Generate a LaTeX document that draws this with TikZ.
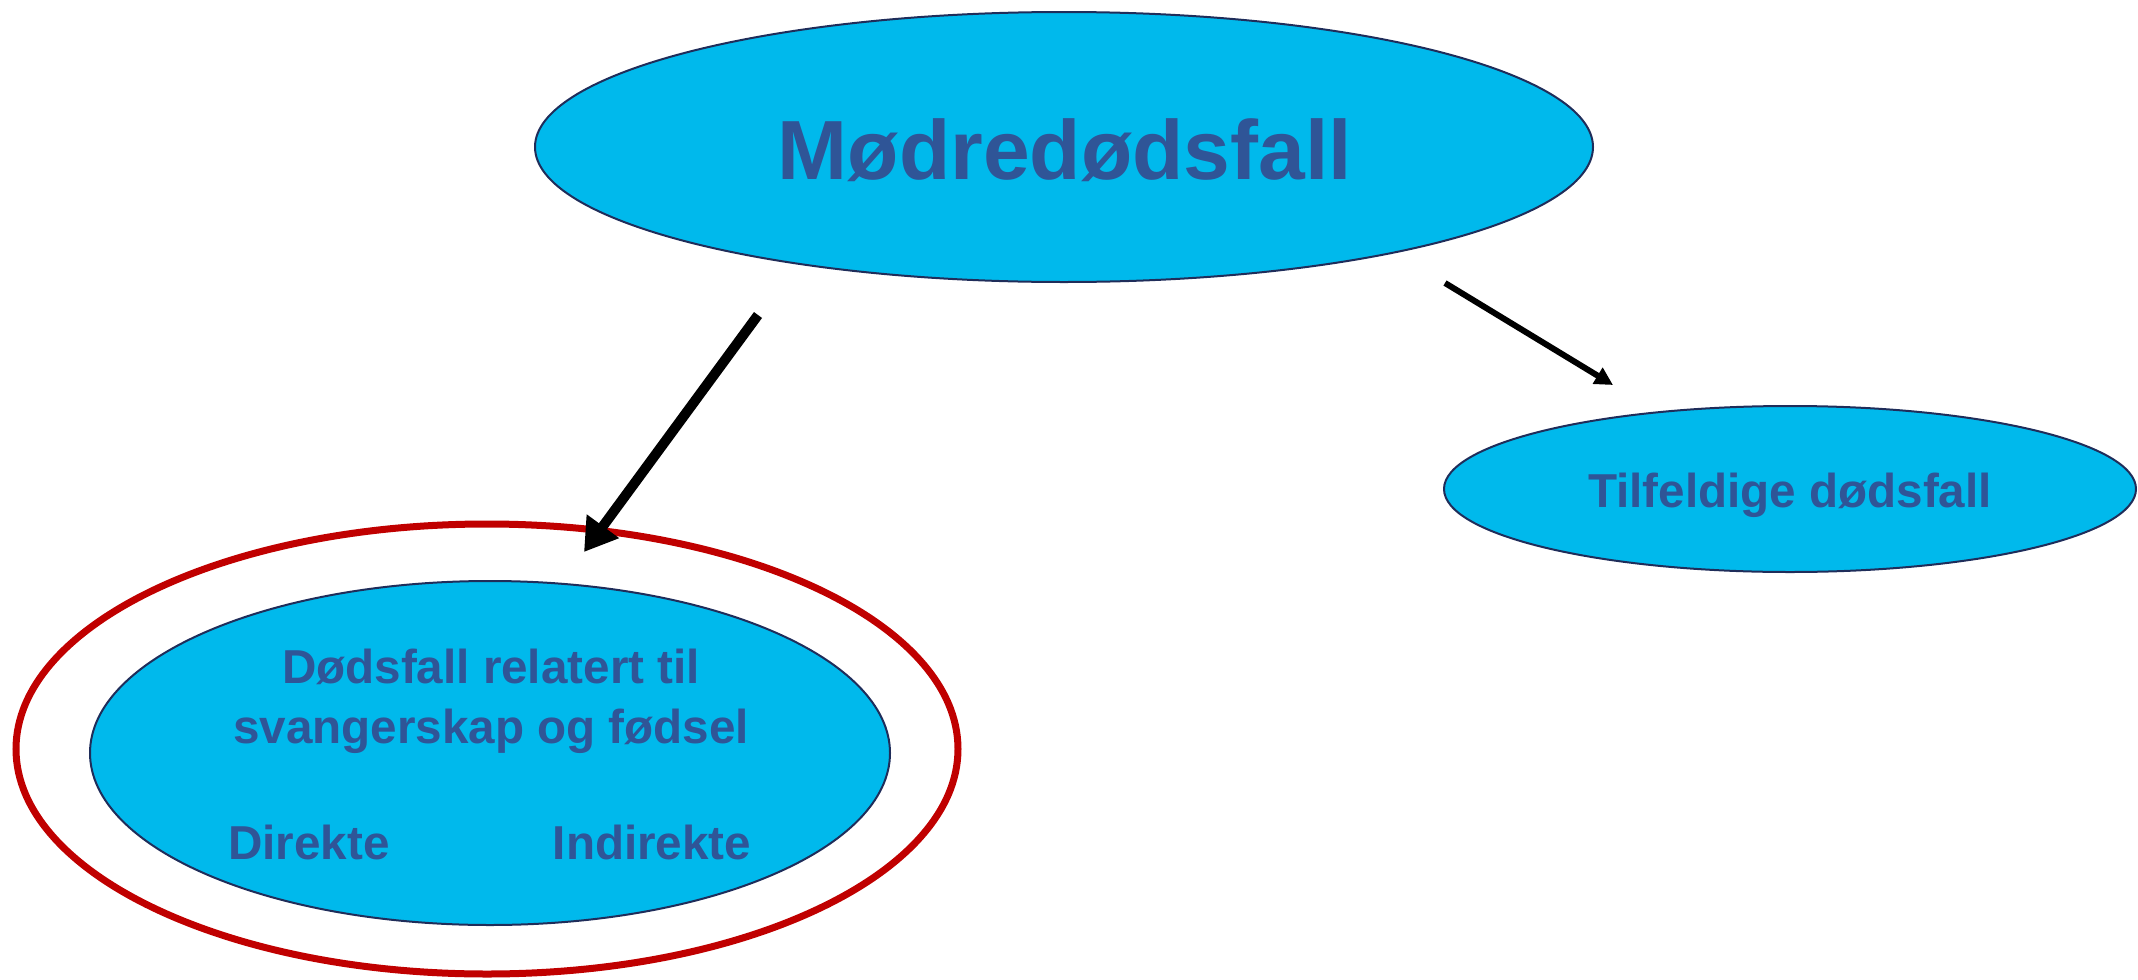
\documentclass[tikz,border=0pt]{standalone}
\usepackage{fontspec}
\setmainfont{Liberation Sans}
\usetikzlibrary{shapes.geometric,arrows.meta}
\definecolor{fondbleu}{RGB}{0,185,236}
\definecolor{textebleu}{RGB}{47,85,151}
\definecolor{bord}{RGB}{31,45,90}
\definecolor{rouge}{RGB}{192,0,0}
\begin{document}
\begin{tikzpicture}[x=.5pt,y=-.5pt,
	bulle/.style={ellipse,draw=bord,line width=1pt,fill=fondbleu,inner sep=0pt},
	txt/.style={text=textebleu,font=\bfseries\fontsize{23.8}{30}\selectfont,inner sep=0pt,anchor=base}]
	\useasboundingbox (0,0) rectangle (2138,980);
	% ellipses
	\node[bulle,minimum width=529pt,minimum height=135pt] (mor) at (1064,147) {};
	\node[bulle,minimum width=346pt,minimum height=83pt] (tilfeldig) at (1790,489) {};
	\node[ellipse,draw=rouge,line width=3.5pt,minimum width=471pt,minimum height=225pt] (ring) at (487,749) {};
	\node[bulle,minimum width=400pt,minimum height=172pt] (relatert) at (490,753) {};
	% fleches
	\coordinate (p1) at (758,315);
	\coordinate (p2) at (584,552);
	\coordinate (q1) at (1445,283);
	\coordinate (q2) at (1613,385);
	\draw[line width=5pt,-{Triangle[length=16pt,width=19pt]}] (p1) -- (p2);
	\draw[line width=3pt,-{Triangle[length=9pt,width=9pt]}] (q1) -- (q2);
	% textes
	\node[txt,font=\bfseries\fontsize{42}{50}\selectfont] (tittel) at (1065,179) {Mødredødsfall};
	\node[txt] (rel1) at (491,683) {Dødsfall relatert til};
	\node[txt] (rel2) at (491,743) {svangerskap og fødsel};
	\node[txt] (dir) at (309,859) {Direkte};
	\node[txt] (indir) at (652,859) {Indirekte};
	\node[txt] (tilf) at (1790,507) {Tilfeldige dødsfall};
\end{tikzpicture}
\end{document}
